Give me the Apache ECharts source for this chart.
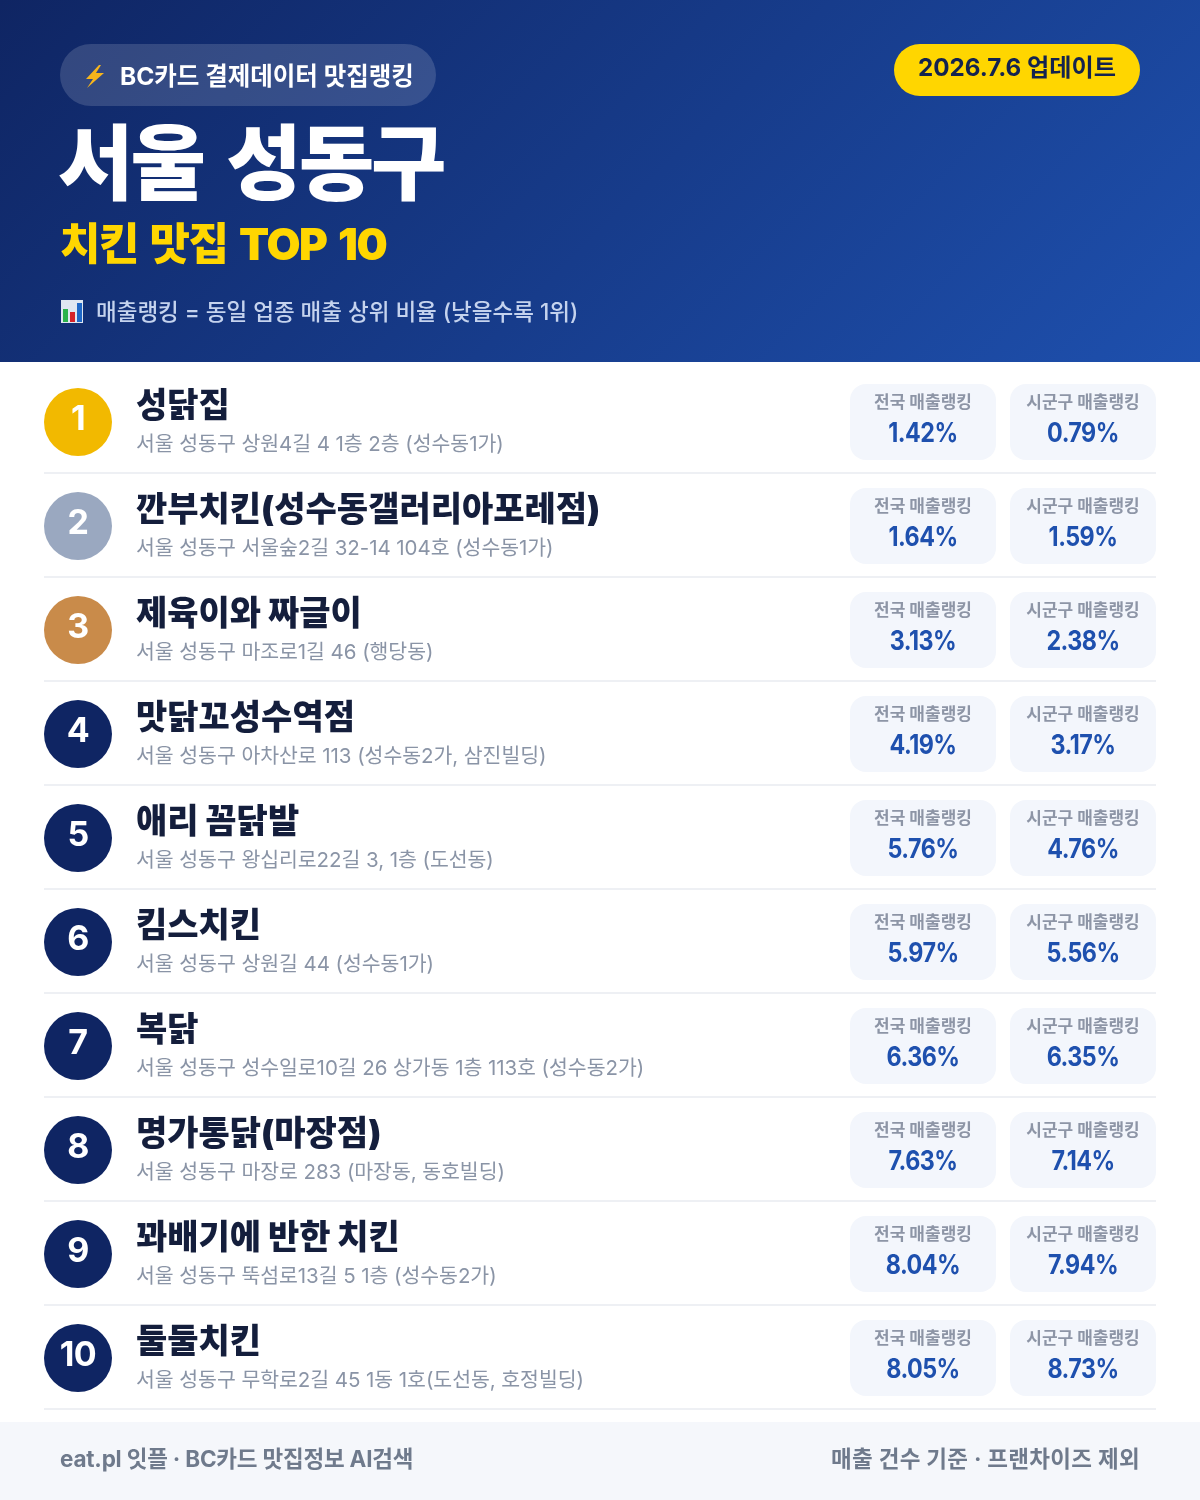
<!DOCTYPE html>
<html lang="ko"><head><meta charset="utf-8">
<style>html,body{margin:0;padding:0;background:#fff}#c{width:1200px;height:1500px}</style>
<script src="https://cdn.jsdelivr.net/npm/echarts@6/dist/echarts.min.js"></script>
</head><body><div id="c"></div>
<script>
const ranks = ['1','2','3','4','5','6','7','8','9','10'];
const names = ['성닭집','깐부치킨(성수동갤러리아포레점)','제육이와 짜글이','맛닭꼬성수역점','애리 꼼닭발','킴스치킨','복닭','명가통닭(마장점)','꽈배기에 반한 치킨','둘둘치킨'];
const addresses = [
 '서울 성동구 상원4길 4 1층 2층 (성수동1가)',
 '서울 성동구 서울숲2길 32-14 104호 (성수동1가)',
 '서울 성동구 마조로1길 46 (행당동)',
 '서울 성동구 아차산로 113 (성수동2가, 삼진빌딩)',
 '서울 성동구 왕십리로22길 3, 1층 (도선동)',
 '서울 성동구 상원길 44 (성수동1가)',
 '서울 성동구 성수일로10길 26 상가동 1층 113호 (성수동2가)',
 '서울 성동구 마장로 283 (마장동, 동호빌딩)',
 '서울 성동구 뚝섬로13길 5 1층 (성수동2가)',
 '서울 성동구 무학로2길 45 1동 1호(도선동, 호정빌딩)'];
const nationalRank = [1.42,1.64,3.13,4.19,5.76,5.97,6.36,7.63,8.04,8.05];
const districtRank = [0.79,1.59,2.38,3.17,4.76,5.56,6.35,7.14,7.94,8.73];

const FONT = 'Inter,"Noto Sans CJK KR",sans-serif';
const NAVY = '#0f2563', BLUE = '#1e50ae', YELLOW = '#ffd600';
const medal = ['#f2b900','#9aa8c0','#c98b4a'];

// canvas letter/word spacing per text string (ECharts text has no tracking option)
const trackOf = {}, wordOf = {};
const proto = CanvasRenderingContext2D.prototype, origFill = proto.fillText;
proto.fillText = function(t,x,y,m){
  this.letterSpacing = (trackOf[t]||0)+'px';
  this.wordSpacing = (wordOf[t]||0)+'px';
  return m===undefined ? origFill.call(this,t,x,y) : origFill.call(this,t,x,y,m);
};

function txt(x,y,text,size,weight,fill,align,track,word,sx){
  if(track) trackOf[text]=track;
  if(word) wordOf[text]=word;
  return {type:'text',x,y,scaleX:sx||1,silent:true,style:{text,x:0,y:0,fontSize:size,fontWeight:weight,fontFamily:FONT,fill,align:align||'left',verticalAlign:'middle'}};
}
function card(x,cy,label,val){
  return [
    {type:'rect',shape:{x,y:cy-38,width:146,height:76,r:16},style:{fill:'#f3f6fc'}},
    txt(x+73,cy-19,label,17,700,'#8d95a6','center'),
    txt(x+73,cy+12,val,26.5,700,BLUE,'center',-0.6,0,0.88)
  ];
}
function renderRow(params,api){
  const i = api.value(0), cy = api.coord([0,i])[1];
  const rx = api.coord([78,i])[0];
  const fill = i<3 ? medal[i] : NAVY;
  return {type:'group',children:[
    {type:'line',shape:{x1:44,y1:cy+51,x2:1156,y2:cy+51},style:{stroke:'#eef0f4',lineWidth:2}},
    {type:'circle',shape:{cx:rx,cy,r:34},style:{fill}},
    txt(rx,cy-2,ranks[i],34,700,'#fff','center',-0.5),
    txt(136,cy-15,names[i],34,900,'#141e3c'),
    txt(136,cy+23,addresses[i],20.5,400,'#8a94a6','left',-0.06),
    ...card(850,cy,'전국 매출랭킹',api.value(1).toFixed(2)+'%'),
    ...card(1010,cy,'시군구 매출랭킹',api.value(2).toFixed(2)+'%')
  ]};
}
const chart = echarts.init(document.getElementById('c'),null,{renderer:'canvas',width:1200,height:1500});
chart.setOption({
  animation:false,backgroundColor:'#fff',
  grid:{left:0,right:0,top:370,height:1040},
  xAxis:{type:'value',min:0,max:1200,show:false},
  yAxis:{type:'category',data:ranks,inverse:true,show:false},
  series:[{type:'custom',coordinateSystem:'cartesian2d',clip:false,
    data:ranks.map((r,i)=>[i,nationalRank[i],districtRank[i]]),
    encode:{x:1,y:0},renderItem:renderRow}],
  graphic:[
    {type:'rect',z:-1,shape:{x:0,y:0,width:1200,height:362},style:{fill:new echarts.graphic.LinearGradient(209.5,-209.5,990.5,571.5,[{offset:0,color:NAVY},{offset:1,color:BLUE}],true)}},
    {type:'rect',shape:{x:60,y:44,width:376,height:62,r:31},style:{fill:'rgba(255,255,255,0.15)'}},
    {type:'polygon',shape:{points:[[99,65],[86,79],[93,79],[87,88],[104,73],[96,73],[101,65]]},style:{fill:'#f7b51c'}},
    txt(120,78,'BC카드 결제데이터 맛집랭킹',24.5,700,'#fff'),
    {type:'rect',shape:{x:894,y:44,width:246,height:52,r:26},style:{fill:YELLOW}},
    txt(1017,69,'2026.7.6 업데이트',24.2,700,'#14234f','center'),
    txt(58,168,'서울 성동구',82,900,'#fff','left',-3,10),
    txt(60,247,'치킨 맛집 TOP 10',44,900,YELLOW,'left',-1.4,4),
    {type:'rect',shape:{x:61,y:300,width:22,height:23},style:{fill:'#dfe7f2'}},
    {type:'rect',shape:{x:63,y:309,width:5,height:13},style:{fill:'#2bb24c'}},
    {type:'rect',shape:{x:70,y:312,width:5,height:10},style:{fill:'#d6232a'}},
    {type:'rect',shape:{x:77,y:303,width:5,height:19},style:{fill:'#1f68c8'}},
    txt(96,313,'매출랭킹 = 동일 업종 매출 상위 비율 (낮을수록 1위)',22.5,500,'#c5d3ee'),
    {type:'rect',shape:{x:0,y:1422,width:1200,height:78},style:{fill:'#f5f7fb'}},
    txt(60,1460,'eat.pl 잇플 · BC카드 맛집정보 AI검색',22.5,700,'#6f7a8c','left',-0.2),
    txt(1140,1460,'매출 건수 기준 · 프랜차이즈 제외',22.5,700,'#6f7a8c','right',0.3)
  ]
});
</script></body></html>
